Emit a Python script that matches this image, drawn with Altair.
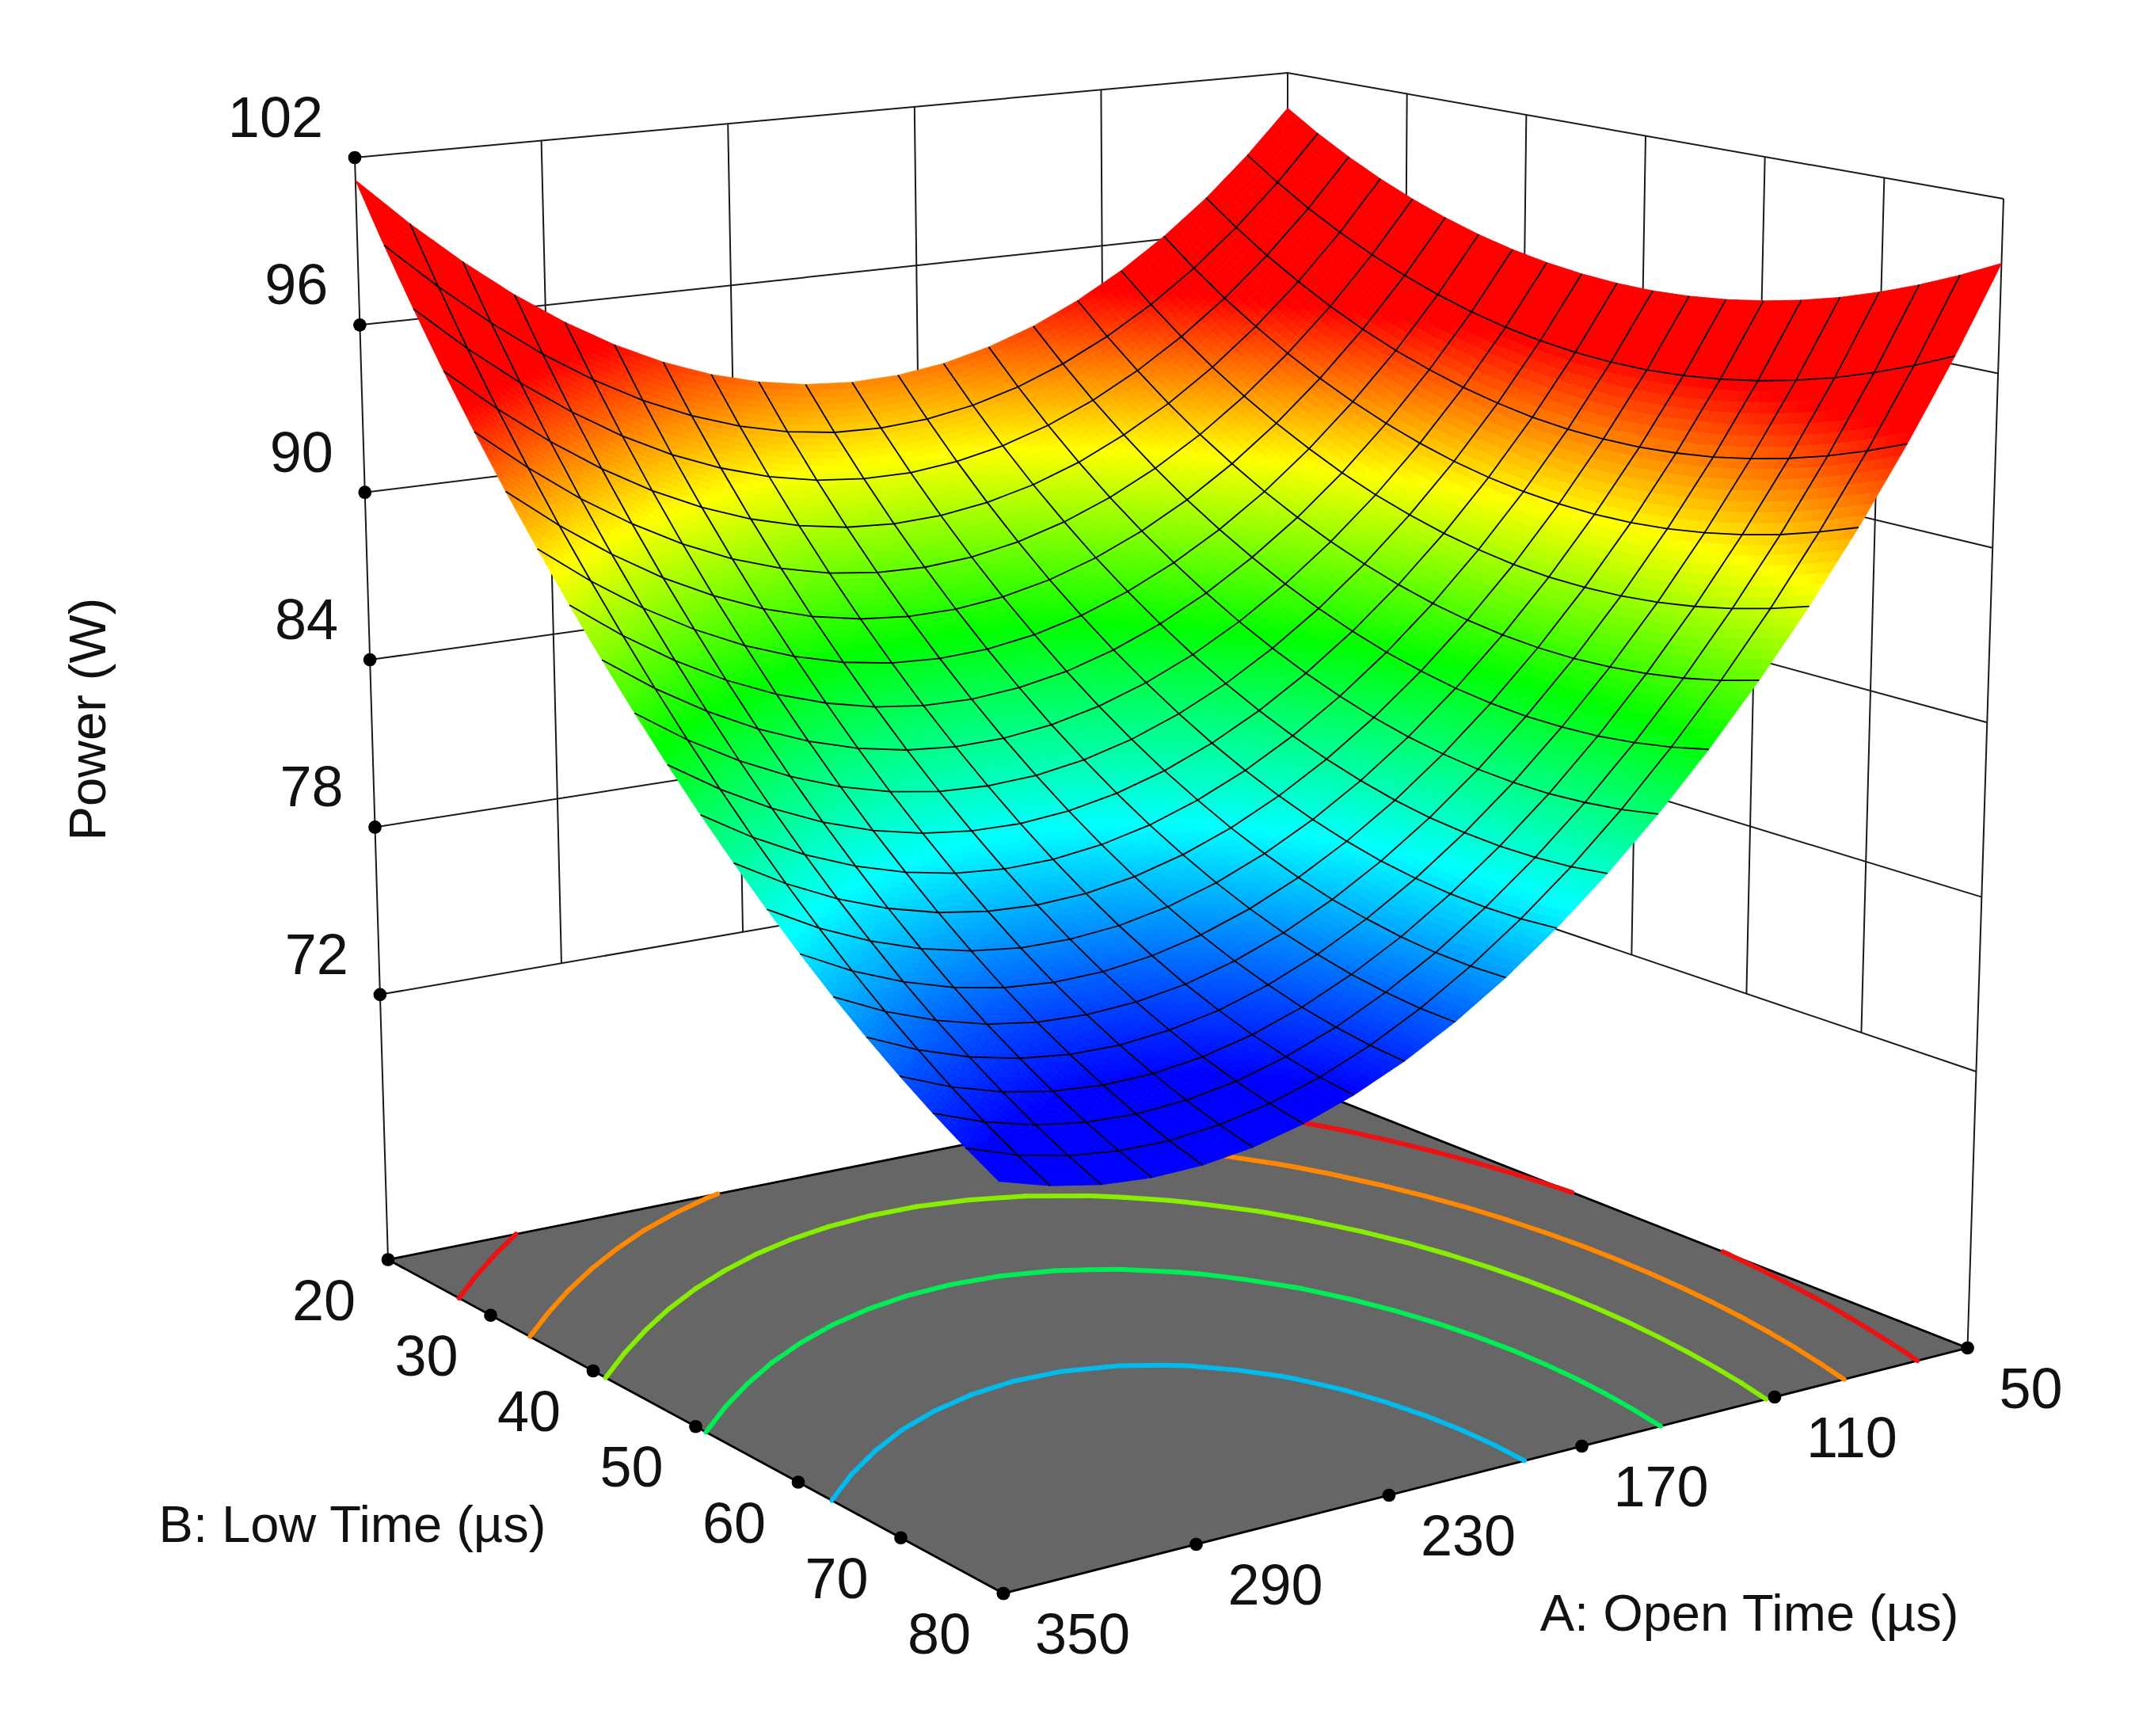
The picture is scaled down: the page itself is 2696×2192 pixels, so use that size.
import numpy as np
import pandas as pd
import altair as alt

# ---- values ----
open_time = [50 + 15 * n for n in range(21)]      # A grid of the mesh
low_time = [20 + 3 * n for n in range(21)]        # B grid of the mesh
power_rows = [
 [100.62,99.89,99.24,98.66,98.15,97.71,97.34,97.05,96.83,96.68,96.60,96.59,96.66,96.80,97.01,97.29,97.64,98.07,98.57,99.14,99.78],
 [98.96,98.17,97.45,96.81,96.24,95.74,95.31,94.95,94.67,94.46,94.32,94.25,94.25,94.33,94.48,94.70,94.99,95.35,95.79,96.30,96.88],
 [97.47,96.62,95.84,95.14,94.50,93.94,93.45,93.04,92.69,92.42,92.21,92.08,92.03,92.04,92.13,92.28,92.52,92.82,93.19,93.64,94.16],
 [96.17,95.25,94.41,93.65,92.95,92.33,91.78,91.30,90.89,90.55,90.29,90.10,89.98,89.93,89.95,90.05,90.22,90.46,90.77,91.16,91.61],
 [95.04,94.06,93.16,92.33,91.57,90.89,90.28,89.73,89.26,88.87,88.54,88.29,88.10,87.99,87.96,87.99,88.10,88.28,88.53,88.85,89.24],
 [94.09,93.05,92.09,91.19,90.37,89.63,88.95,88.35,87.82,87.36,86.97,86.65,86.41,86.24,86.14,86.11,86.16,86.28,86.46,86.72,87.06],
 [93.31,92.22,91.19,90.24,89.35,88.54,87.81,87.15,86.55,86.03,85.58,85.20,84.90,84.66,84.50,84.41,84.40,84.45,84.58,84.78,85.05],
 [92.72,91.56,90.47,89.45,88.51,87.64,86.85,86.12,85.46,84.88,84.37,83.93,83.56,83.26,83.04,82.89,82.81,82.80,82.87,83.00,83.21],
 [92.30,91.08,89.93,88.85,87.85,86.91,86.06,85.27,84.55,83.90,83.33,82.83,82.40,82.04,81.75,81.54,81.41,81.34,81.34,81.41,81.56],
 [92.06,90.78,89.57,88.43,87.36,86.36,85.45,84.60,83.82,83.11,82.47,81.91,81.42,81.00,80.65,80.37,80.18,80.05,79.99,80.00,80.08],
 [92.00,90.66,89.38,88.18,87.05,85.99,85.02,84.10,83.26,82.49,81.79,81.17,80.61,80.13,79.72,79.38,79.13,78.93,78.81,78.76,78.78],
 [92.12,90.71,89.38,88.11,86.92,85.80,84.76,83.79,82.88,82.05,81.29,80.60,79.99,79.44,78.97,78.57,78.26,78.00,77.82,77.70,77.66],
 [92.42,90.95,89.55,88.22,86.97,85.79,84.69,83.65,82.68,81.79,80.97,80.22,79.54,78.93,78.40,77.94,77.56,77.24,77.00,76.82,76.72],
 [92.89,91.36,89.90,88.51,87.19,85.95,84.79,83.69,82.66,81.71,80.82,80.01,79.27,78.60,78.01,77.48,77.04,76.66,76.36,76.12,75.96],
 [93.54,91.95,90.43,88.98,87.60,86.29,85.07,83.91,82.82,81.80,80.86,79.98,79.18,78.45,77.79,77.21,76.71,76.26,75.89,75.60,75.37],
 [94.37,92.71,91.13,89.62,88.18,86.81,85.53,84.31,83.15,82.07,81.07,80.13,79.27,78.47,77.75,77.11,76.54,76.04,75.61,75.25,74.96],
 [95.38,93.66,92.01,90.44,88.94,87.51,86.17,84.88,83.67,82.52,81.45,80.46,79.53,78.68,77.89,77.18,76.56,76.00,75.50,75.08,74.73],
 [96.56,94.78,93.08,91.44,89.88,88.38,86.98,85.63,84.36,83.15,82.02,80.96,79.97,79.06,78.21,77.44,76.76,76.13,75.57,75.09,74.68],
 [97.93,96.09,94.32,92.62,90.99,89.44,87.97,86.56,85.23,83.96,82.77,81.64,80.59,79.62,78.71,77.88,77.13,76.44,75.82,75.28,74.80],
 [99.47,97.57,95.73,93.97,92.29,90.67,89.14,87.67,86.27,84.94,83.69,82.50,81.39,80.35,79.38,78.49,77.68,76.93,76.25,75.64,75.11],
 [101.19,99.22,97.33,95.51,93.76,92.08,90.49,88.96,87.50,86.11,84.79,83.54,82.37,81.27,80.24,79.28,78.41,77.60,76.86,76.19,75.59],
]
a_ticks = [350, 290, 230, 170, 110, 50]
b_ticks = [20, 30, 40, 50, 60, 70, 80]
z_ticks = [102, 96, 90, 84, 78, 72]
z_floor = 62.5
contour_levels = [79.833, 84.373, 88.853, 92.733, 96.773]
contour_colors = ["#00BBEE", "#00EE55", "#88EE00", "#FF8800", "#EE1111"]
color_stops = [76.0, 80.6, 85.2, 89.8, 94.4]
color_names = ["#0000ff", "#00ffff", "#00ff00", "#ffff00", "#ff0000"]

# ---- box corners as they sit in the picture; ticks are evenly spaced along
# the box edges, so the view blends these eight corners ----
floor_corners = {"left": (490, 1590.5), "front": (1267, 2012), "right": (2484.5, 1702), "back": (1625, 1364)}
top_corners = {"left": (448, 199), "front": (1250, 442), "right": (2530, 251), "back": (1626, 92)}
mesh_bulge_a = 0.155     # the mesh (not the box) is foreshortened with height
mesh_bulge_b = 0.17


def blend(c, u, v, w):
    bottom = (floor_corners["back"][c] * (1 - u) * (1 - v) + floor_corners["left"][c] * u * (1 - v)
              + floor_corners["right"][c] * (1 - u) * v + floor_corners["front"][c] * u * v)
    top = (top_corners["back"][c] * (1 - u) * (1 - v) + top_corners["left"][c] * u * (1 - v)
           + top_corners["right"][c] * (1 - u) * v + top_corners["front"][c] * u * v)
    return float(bottom * (1 - w) + top * w)


def proj(a, b, z, on_mesh=False):
    u = (a - 50) / 300          # 0 at A=50
    v = (b - 20) / 60           # 0 at B=20
    w = (z - z_floor) / (102 - z_floor)
    if on_mesh:
        ux = u - mesh_bulge_a * w * u * (1 - u)
        vx = v - mesh_bulge_b * w * v * (1 - v)
        return blend(0, ux, vx, w), blend(1, u, v, w)
    return blend(0, u, v, w), blend(1, u, v, w)


Z = np.array(power_rows)
A = np.array(open_time, float)
B = np.array(low_time, float)

# ---- surface patches (each mesh cell split for smooth shading) ----
N = 7
patches = []
cells = sorted(((k, i) for k in range(20) for i in range(20)), key=lambda c: c[0] + c[1])
for k, i in cells:
    for s in range(N):
        for t in range(N):
            pts = []
            zs = []
            for (p, q) in [(s, t), (s + 1, t), (s + 1, t + 1), (s, t + 1)]:
                f, g = p / N, q / N
                z = (Z[k, i] * (1 - f) * (1 - g) + Z[k + 1, i] * f * (1 - g)
                     + Z[k, i + 1] * (1 - f) * g + Z[k + 1, i + 1] * f * g)
                x, y = proj(A[k] + 15 * f, B[i] + 3 * g, z, on_mesh=True)
                pts.append([round(x - 8, 1), round(y - 8, 1)])
                zs.append(z)
            pts.append(pts[0])
            patches.append({"type": "Feature", "properties": {"z": round(float(np.mean(zs)), 2)},
                            "geometry": {"type": "Polygon", "coordinates": [pts]}})

floor_pts = [proj(a, b, z_floor) for a, b in [(350, 20), (350, 80), (50, 80), (50, 20), (350, 20)]]
floor_feature = [{"type": "Feature", "properties": {"z": 0},
                  "geometry": {"type": "Polygon",
                               "coordinates": [[[x - 8, y - 8] for x, y in floor_pts]]}}]

identity = dict(type="identity", scale=1, translate=[0, 0])
color_scale = alt.Scale(domain=color_stops, range=color_names, interpolate="rgb", clamp=True)


def segs(list_of_lines):
    out = []
    for n, line in enumerate(list_of_lines):
        for j, (x, y) in enumerate(line):
            out.append({"seg": n, "idx": j, "px": x, "py": y})
    return pd.DataFrame(out)


x_enc = alt.X("px:Q", scale=alt.Scale(domain=[8, 2688]), axis=None)
y_enc = alt.Y("py:Q", scale=alt.Scale(domain=[2184, 8]), axis=None)


def lines(df, color, width, **kw):
    return alt.Chart(df).mark_line(color=color, strokeWidth=width, **kw).encode(
        x=x_enc, y=y_enc, detail="seg:N", order="idx:Q")


# walls: inner verticals stop at the lowest tick, the outer ones reach the floor
wall = []
for z in z_ticks:
    wall.append([proj(350, 20, z), proj(50, 20, z), proj(50, 80, z)])
for a in a_ticks:
    wall.append([proj(a, 20, z_floor if a == 350 else z_ticks[-1]), proj(a, 20, 102)])
for b in b_ticks[1:]:
    wall.append([proj(50, b, z_floor if b == 80 else z_ticks[-1]), proj(50, b, 102)])
wall_layer = lines(segs(wall), "#1a1a1a", 2.0)

floor_layer = alt.Chart(alt.InlineData(values=floor_feature)).mark_geoshape(
    fill="#666666", stroke="#000000", strokeWidth=2.8).project(**identity)

# contours on the floor, traced through the power table
contour_layers = []
for lev, col in zip(contour_levels, contour_colors):
    c_lines = []
    for k in range(20):
        for i in range(20):
            hits = []
            edges = [((k, i), (k + 1, i)), ((k + 1, i), (k + 1, i + 1)),
                     ((k + 1, i + 1), (k, i + 1)), ((k, i + 1), (k, i))]
            for p, q in edges:
                zp, zq = Z[p], Z[q]
                if (zp - lev) * (zq - lev) < 0:
                    f = (lev - zp) / (zq - zp)
                    hits.append(proj(A[p[0]] + f * (A[q[0]] - A[p[0]]),
                                     B[p[1]] + f * (B[q[1]] - B[p[1]]), z_floor))
            if len(hits) >= 2:
                c_lines.append(hits[:2])
    contour_layers.append(lines(segs(c_lines), col, 6, strokeCap="round"))

surface_layer = alt.Chart(alt.InlineData(values=patches)).mark_geoshape(strokeWidth=0.8).encode(
    fill=alt.Fill("properties.z:Q", scale=color_scale, legend=None),
    stroke=alt.Stroke("properties.z:Q", scale=color_scale, legend=None),
).project(**identity)

# mesh lines
mesh = []
for k in range(1, 20):
    mesh.append([proj(A[k], B[i], Z[k, i], on_mesh=True) for i in range(21)])
for i in range(1, 20):
    mesh.append([proj(A[k], B[i], Z[k, i], on_mesh=True) for k in range(21)])
mesh_layer = lines(segs(mesh), "#000000", 1.8)

# tick dots and labels
z_pts = pd.DataFrame([dict(zip(("px", "py"), proj(350, 20, z)), t=str(z)) for z in z_ticks])
b_pts = pd.DataFrame([dict(zip(("px", "py"), proj(350, b, z_floor)), t=str(b)) for b in b_ticks])
a_pts = pd.DataFrame([dict(zip(("px", "py"), proj(a, 80, z_floor)), t=str(a)) for a in a_ticks])
all_pts = pd.concat([z_pts, b_pts, a_pts])
dots = alt.Chart(all_pts).mark_circle(size=280, color="#000000", opacity=1).encode(x=x_enc, y=y_enc)

FONT = "Liberation Sans"


def labels(df, align, dx, dy):
    return alt.Chart(df).mark_text(font=FONT, fontSize=72, color="#111111", align=align,
                                   baseline="middle", dx=dx, dy=dy).encode(x=x_enc, y=y_enc, text="t:N")


titles = pd.DataFrame([
    {"px": 445, "py": 1927, "t": "B: Low Time (\u00b5s)"},
    {"px": 2209, "py": 2039, "t": "A: Open Time (\u00b5s)"},
])
title_layer = alt.Chart(titles).mark_text(font=FONT, fontSize=65, color="#111111", align="center",
                                          baseline="middle").encode(x=x_enc, y=y_enc, text="t:N")
power_title = alt.Chart(pd.DataFrame([{"px": 113, "py": 908, "t": "Power (W)"}])).mark_text(
    font=FONT, fontSize=65, color="#111111", align="center", baseline="middle", angle=270
).encode(x=x_enc, y=y_enc, text="t:N")

chart = alt.layer(
    wall_layer, floor_layer, *contour_layers, surface_layer, mesh_layer, dots,
    labels(z_pts, "right", -40, -48), labels(b_pts, "right", -41, 54), labels(a_pts, "left", 40, 54),
    title_layer, power_title,
).properties(
    width=2680, height=2176, padding=0, background="white",
    autosize=alt.AutoSizeParams(type="none"),
).configure_view(stroke=None)

chart.save("out.html", embed_options={"renderer": "svg", "actions": False})
